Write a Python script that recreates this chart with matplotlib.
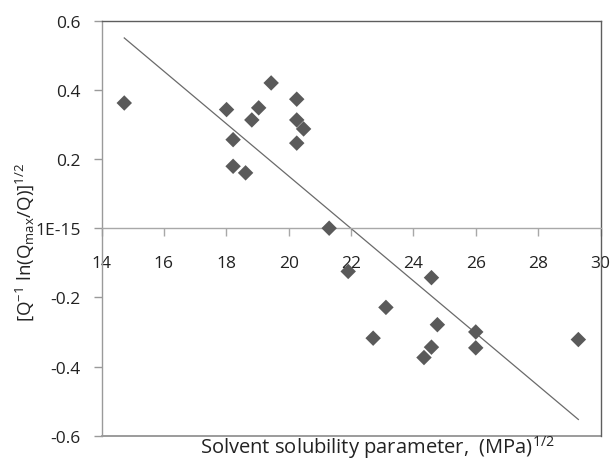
import numpy as np
import matplotlib
matplotlib.use("Agg")
import matplotlib.pyplot as plt

# Data
solubility = [14.73, 18.01, 18.22, 18.22, 18.62, 18.82, 19.04, 19.44,
              20.26, 20.26, 20.48, 20.26, 21.30, 21.91, 24.58, 23.12,
              24.77, 22.71, 26.00, 24.58, 26.00, 24.34, 29.29]
response = [0.362, 0.343, 0.256, 0.179, 0.160, 0.313, 0.348, 0.420,
            0.373, 0.313, 0.287, 0.246, 0.000, -0.125, -0.143, -0.229,
            -0.279, -0.318, -0.300, -0.344, -0.346, -0.374, -0.322]
x_ticks = [14, 16, 18, 20, 22, 24, 26, 28, 30]
y_ticks = [-0.6, -0.4, -0.2, 0.0, 0.2, 0.4, 0.6]
y_tick_labels = ["-0.6", "-0.4", "-0.2", "1E-15", "0.2", "0.4", "0.6"]

plt.rcParams['font.family'] = ['Open Sans', 'DejaVu Sans']
plt.rcParams['mathtext.fontset'] = 'custom'
plt.rcParams['mathtext.rm'] = 'Open Sans'
plt.rcParams['mathtext.it'] = 'Open Sans'

fig = plt.figure(figsize=(6.11, 4.64), dpi=100)
ax = fig.add_axes([101.5 / 611, 1 - 436.7 / 464, (600.5 - 101.5) / 611, (436.7 - 21.7) / 464])

xs = np.array(solubility)
ys = np.array(response)
ax.scatter(xs, ys, marker='D', s=62, color='#5a5a5a', edgecolors='none', zorder=3)

coef = np.polyfit(xs, ys, 1)
xl = np.array([xs.min(), xs.max()])
ax.plot(xl, np.polyval(coef, xl), color='#6a6a6a', lw=0.9, zorder=2)

ax.set_xlim(14, 30)
ax.set_ylim(-0.6, 0.6)

ax.spines['bottom'].set_position(('data', 0))
ax.spines['bottom'].set_color('#a8a8a8')
ax.spines['left'].set_color('#9a9a9a')
ax.spines['top'].set_color('#5e5e5e')
ax.spines['right'].set_color('#5e5e5e')
for s in ax.spines.values():
    s.set_linewidth(1.0)
ax.axhline(-0.6, color='#8a8a8a', lw=1.2, clip_on=False, zorder=1)

ax.set_xticks(x_ticks)
ax.set_yticks(y_ticks)
ax.set_yticklabels(y_tick_labels)
ax.tick_params(axis='x', direction='out', length=6, width=1, color='#a8a8a8',
               pad=13, labelsize=12.5, labelcolor='#222222')
ax.tick_params(axis='y', direction='out', length=6, width=1, color='#9a9a9a',
               pad=9, labelsize=12.5, labelcolor='#222222')

fig.text(25 / 611, 1 - 242 / 464, r'[Q$^{-1}$ ln(Q$_{\mathrm{max}}$/Q)]$^{1/2}$',
         rotation=90, ha='center', va='center', fontsize=13.5, color='#222222')
fig.text(377 / 611, 1 - 448 / 464, r'Solvent solubility parameter,  (MPa)$^{1/2}$',
         ha='center', va='center', fontsize=14.5, color='#222222')

fig.savefig('out.png', dpi=100)
